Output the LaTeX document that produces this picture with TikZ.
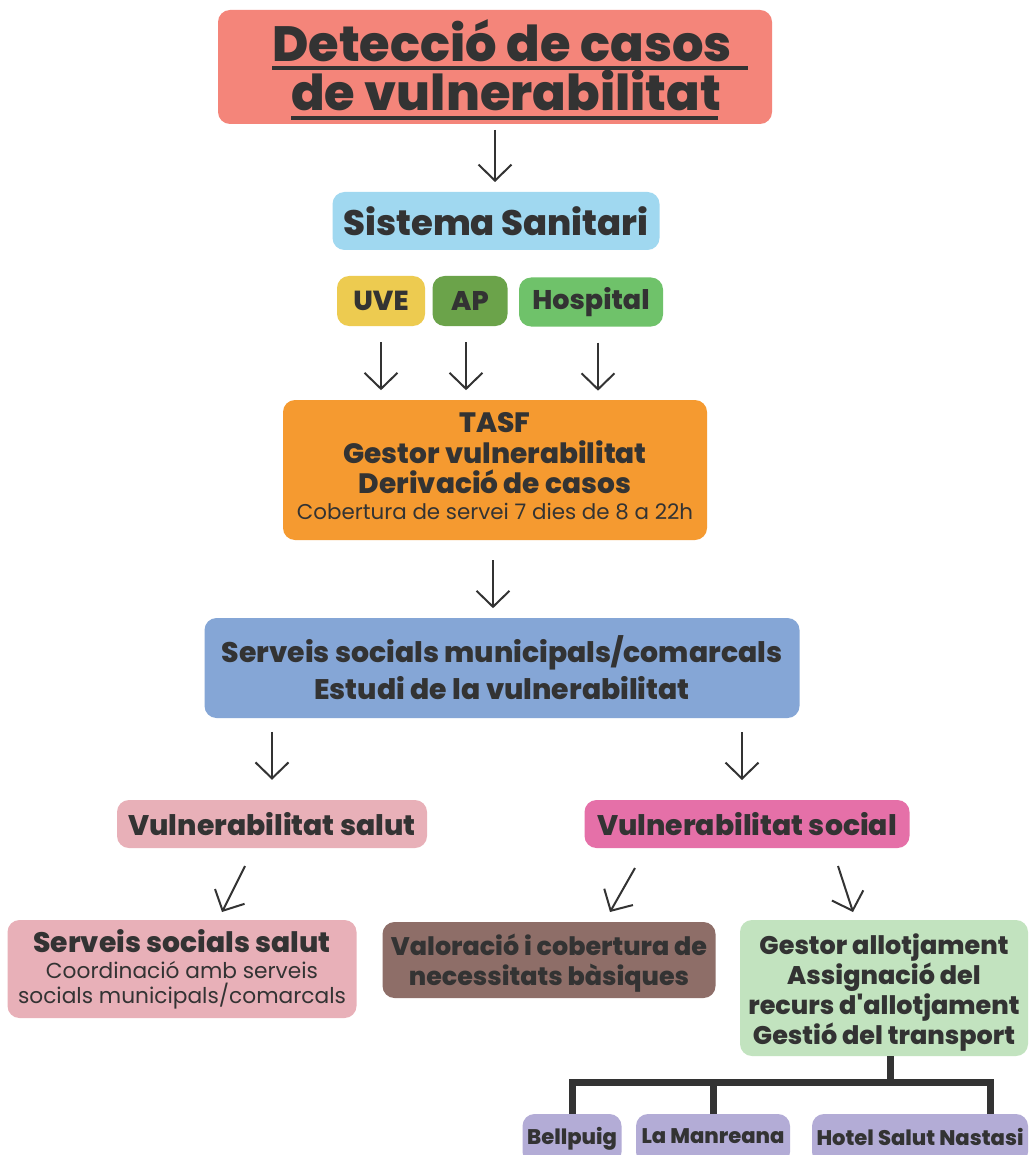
\documentclass[tikz,border=0pt]{standalone}
\usepackage{fontspec}
\setmainfont{Poppins}[BoldFont={Poppins ExtraBold}]
\newfontfamily\aposfont{Poppins ExtraBold}
\usetikzlibrary{arrows.meta}
\definecolor{ink}{HTML}{333333}
\definecolor{ctitle}{HTML}{F4857A}
\definecolor{csis}{HTML}{A0D8F0}
\definecolor{cuve}{HTML}{EDCB50}
\definecolor{cap}{HTML}{6BA34A}
\definecolor{chosp}{HTML}{6FC26A}
\definecolor{ctasf}{HTML}{F59A30}
\definecolor{cserv}{HTML}{85A6D6}
\definecolor{cpink}{HTML}{E8B0B8}
\definecolor{cmag}{HTML}{E570A8}
\definecolor{cbrown}{HTML}{8E6E68}
\definecolor{cgreen}{HTML}{C2E3BF}
\definecolor{clav}{HTML}{B3ACD6}
\tikzset{
  box/.style={rounded corners=12pt, inner sep=0pt, align=center, text=ink, font=\bfseries},
  txt/.style={inner sep=0pt, align=center, text=ink},
  arr/.style={draw=ink, line width=2pt, -{Straight Barb[length=16pt,width=33pt]}},
  tree/.style={draw=ink, line width=7pt, line join=miter},
}
\newcommand\fs[2]{\fontsize{#1}{#2}\selectfont}
\begin{document}
\begin{tikzpicture}[x=1pt,y=-1pt]
\useasboundingbox[fill=white] (0,0) rectangle (1030,1155);
% title
\node[box, fill=ctitle, minimum width=554pt, minimum height=114pt] (title) at (495,67) {};
\node[txt, font=\bfseries\fs{49.5}{52}, anchor=base west] (t1) at (272,62) {Detecció de casos};
\node[txt, font=\bfseries\fs{49.5}{52}, anchor=base west] (t2) at (291,111) {de vulnerabilitat};
\draw[ink, line width=3.5pt] (272,68) coordinate (u1a) -- (748,68) coordinate (u1b);
\draw[ink, line width=3.5pt] (291,118) coordinate (u2a) -- (718,118) coordinate (u2b);
% sistema
\node[box, fill=csis, minimum width=327pt, minimum height=58pt, font=\bfseries\fs{35.4}{37}] (sis) at (496,221) {\raisebox{-2pt}{Sistema Sanitari}};
\node[box, fill=cuve, minimum width=88pt, minimum height=50pt, font=\bfseries\fs{27.5}{29}] (uve) at (381,301) {UVE};
\node[box, fill=cap, minimum width=75pt, minimum height=50pt, font=\bfseries\fs{27}{29}] (ap) at (470,301) {AP};
\node[box, fill=chosp, minimum width=144pt, minimum height=49pt, font=\bfseries\fs{27}{29}] (hosp) at (591,302) {Hospital};
% tasf
\node[box, fill=ctasf, minimum width=424pt, minimum height=140pt] (tasf) at (495,470) {};
\node[txt, font=\bfseries\fs{28}{30.5}] (tasf-t) at (495,466)
  {TASF\\Gestor vulnerabilitat\\Derivació de casos\\[-5pt]{\mdseries\fs{21.4}{24}Cobertura de servei 7 dies de 8 a 22h}};
% serveis
\node[box, fill=cserv, minimum width=595pt, minimum height=100pt, font=\bfseries\fs{28.3}{37}] (serv) at (502,668)
  {Serveis socials municipals/comarcals\\Estudi de la vulnerabilitat};
\node[box, fill=cpink, minimum width=310pt, minimum height=48pt, font=\bfseries\fs{28.3}{30}] (vsal) at (272,824) {Vulnerabilitat salut};
\node[box, fill=cmag, minimum width=325pt, minimum height=48pt, font=\bfseries\fs{28.3}{30}] (vsoc) at (747,824) {Vulnerabilitat social};
\node[box, fill=cpink, minimum width=349pt, minimum height=98pt, font=\bfseries\fs{28.2}{30}] (ssal) at (182,969)
  {Serveis socials salut\\[-4pt]{\mdseries\fs{21.7}{25}Coordinació amb serveis}\\[-5pt]{\mdseries\fs{21.7}{25}socials municipals/comarcals}};
\node[box, fill=cbrown, minimum width=333pt, minimum height=76pt] (val) at (549,960) {};
\node[txt, font=\bfseries\fs{25.4}{30}] (val-t) at (549,963) {Valoració i cobertura de\\necessitats bàsiques};
\node[box, fill=cgreen, minimum width=288pt, minimum height=136pt] (gest) at (884,988) {};
\node[txt, font=\bfseries\fs{25.5}{30}] (gest-t) at (884,993)
  {Gestor allotjament\\Assignació del\\recurs d{\aposfont'}allotjament\\Gestió del transport};
\node[box, fill=clav, minimum width=99pt, minimum height=50pt, font=\bfseries\fs{21.1}{22}] (bell) at (572,1139) {\raisebox{5pt}{Bellpuig}};
\node[box, fill=clav, minimum width=154pt, minimum height=50pt, font=\bfseries\fs{21.1}{22}] (manr) at (713,1139) {\raisebox{5pt}{La Manreana}};
\node[box, fill=clav, minimum width=216pt, minimum height=50pt, font=\bfseries\fs{21.1}{22}] (hotel) at (920,1139) {\raisebox{5pt}{Hotel Salut Nastasi}};
% arrows
\draw[arr] (title.south |- 0,130) -- (title.south |- 0,182);
\draw[arr] (uve.south) ++(0,16) -- ++(0,48);
\draw[arr] (ap.south) ++(-4,16) -- ++(0,48);
\draw[arr] (hosp.south) ++(7,16) -- ++(0,48);
\draw[arr] (tasf.south) ++(-2,20) -- ++(0,48);
\draw[arr] (vsal.north) ++(0,-68) -- ++(0,48);
\draw[arr] (742,732) -- (742,780);
\draw[arr] (245,866) -- (222,912);
\draw[arr] (635,868) -- (610,912);
\draw[arr] (838,866) -- (853,912);
% tree
\coordinate (j) at (890,1082);
\draw[tree] (890,1056) -- (j);
\draw[tree] (bell.north) |- (990,1082) -- (990,1114);
\draw[tree] (713,1114) -- (713,1082);
\end{tikzpicture}
\end{document}
